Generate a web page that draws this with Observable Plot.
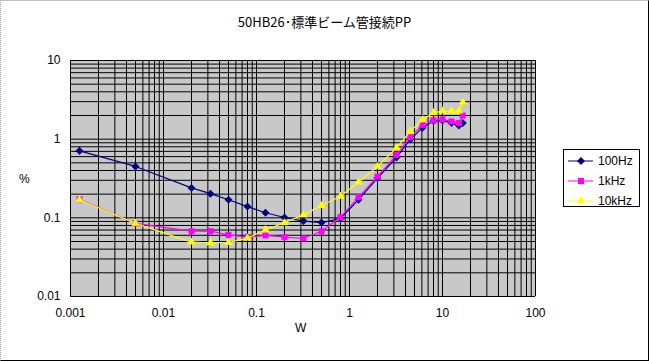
<!DOCTYPE html>
<html>
<head>
<meta charset="utf-8">
<script src="https://cdn.jsdelivr.net/npm/d3@7"></script>
<script src="https://cdn.jsdelivr.net/npm/@observablehq/plot@0.6"></script>
<style>
  html, body { margin: 0; padding: 0; background: #fff; }
  #wrap { position: relative; width: 649px; height: 361px; overflow: hidden; font-family: "Liberation Sans", Arial, "Noto Sans CJK JP", sans-serif; }
  .lbl { position: absolute; font-size: 12px; color: #000; white-space: nowrap; }
  #border { position: absolute; left: 0; top: 0; width: 649px; height: 361px; box-sizing: border-box;
            border-top: 1px solid #c0c0c0; border-left: 1px dotted #a0a0a0; border-right: 1px solid #000; border-bottom: 1px solid #000; pointer-events: none; }
  #legend { position: absolute; left: 563px; top: 149px; width: 77px; height: 58px; box-sizing: border-box; border: 1px solid #000; background: #fff; }
  .li { position: absolute; left: 0; height: 14px; font-size: 12px; line-height: 14px; }
  .li svg { position: absolute; left: 4px; top: 0; }
  .li span { position: absolute; left: 34px; top: 0; }
</style>
</head>
<body>
<div id="wrap"></div>
<script>
// ---- data ----
const power = [0.00125, 0.005, 0.02, 0.032, 0.05, 0.08, 0.125, 0.2, 0.32, 0.5, 0.8, 1.25, 2, 3.2, 4.5, 6.1, 8, 10, 12.5, 15, 16.5];
const thd100Hz = [0.71, 0.45, 0.24, 0.203, 0.17, 0.139, 0.116, 0.101, 0.091, 0.087, 0.098, 0.17, 0.32, 0.585, 0.99, 1.40, 1.70, 1.73, 1.6, 1.49, 1.6];
const thd1kHz  = [0.172, 0.085, 0.0676, 0.0676, 0.0608, 0.0568, 0.0597, 0.0568, 0.0546, 0.0676, 0.102, 0.183, 0.335, 0.633, 1.06, 1.52, 1.73, 1.78, 1.68, 1.61, 2.0];
const thd10kHz = [0.17, 0.085, 0.049, 0.048, 0.0486, 0.0551, 0.0704, 0.0865, 0.109, 0.1435, 0.188, 0.284, 0.45, 0.776, 1.26, 1.76, 2.16, 2.27, 2.27, 2.27, 2.95];
const seriesNames = ["100Hz", "1kHz", "10kHz"];
const seriesColors = ["#000080", "#ff00ff", "#ffff00"];
const xTicks = [0.001, 0.01, 0.1, 1, 10, 100];
const xTickLabels = ["0.001", "0.01", "0.1", "1", "10", "100"];
const yTicks = [0.01, 0.1, 1, 10];
const yTickLabels = ["0.01", "0.1", "1", "10"];
const title = "50HB26･標準ビーム管接続PP";
const xLabel = "W";
const yLabel = "%";

// ---- build ----
const rhombus = {
  draw(context, size) {
    const h = Math.sqrt(size / 2);
    context.moveTo(0, -h); context.lineTo(h, 0); context.lineTo(0, h); context.lineTo(-h, 0); context.closePath();
  }
};
const seriesSymbols = [rhombus, d3.symbolSquare, d3.symbolTriangle];
const symbolSizes = [3.2, 3.4, 3.1];

const allSeries = [thd100Hz, thd1kHz, thd10kHz];
const rows = [];
allSeries.forEach((vals, si) => vals.forEach((v, i) => rows.push({x: power[i], y: v, s: seriesNames[si]})));

const gridX = [];
for (let e = -3; e < 2; e++) for (let k = 1; k < 10; k++) gridX.push(k * Math.pow(10, e));
gridX.push(100);
const gridY = [];
for (let e = -2; e < 1; e++) for (let k = 1; k < 10; k++) gridY.push(k * Math.pow(10, e));
gridY.push(10);

const marks = [
  Plot.frame({fill: "#c8c8c8", stroke: null}),
  Plot.ruleX(gridX, {stroke: "#000", strokeWidth: 1}),
  Plot.ruleY(gridY, {stroke: "#000", strokeWidth: 1}),
  Plot.axisX({ticks: xTicks, tickFormat: d => xTickLabels[xTicks.indexOf(d)], tickSize: 0, tickPadding: 12, fontSize: 12, label: null}),
  Plot.axisY({ticks: yTicks, tickFormat: d => yTickLabels[yTicks.indexOf(d)], tickSize: 0, tickPadding: 10, fontSize: 12, label: null})
];
seriesNames.forEach((name, si) => {
  const data = rows.filter(r => r.s === name);
  marks.push(Plot.line(data, {x: "x", y: "y", stroke: seriesColors[si], strokeWidth: 1.2}));
  marks.push(Plot.dot(data, {x: "x", y: "y", symbol: () => seriesSymbols[si], fill: seriesColors[si], stroke: null, r: symbolSizes[si]}));
});

const chart = Plot.plot({
  width: 649, height: 361,
  marginLeft: 70, marginRight: 114, marginTop: 60, marginBottom: 65,
  style: {fontFamily: "'Liberation Sans', Arial, sans-serif", fontSize: "12px", color: "#000", background: "transparent"},
  x: {type: "log", domain: [0.001, 100]},
  y: {type: "log", domain: [0.01, 10]},
  symbol: {type: "identity"},
  marks
});

const wrap = document.getElementById("wrap");
wrap.appendChild(chart);

function addLabel(text, left, top, extra) {
  const d = document.createElement("div");
  d.className = "lbl";
  d.textContent = text;
  d.style.left = left + "px";
  d.style.top = top + "px";
  if (extra) Object.assign(d.style, extra);
  wrap.appendChild(d);
  return d;
}
addLabel(title, 0, 12, {width: "649px", textAlign: "center", fontSize: "13px", fontFamily: "'Noto Sans CJK JP', 'Liberation Sans', sans-serif"});
addLabel(xLabel, 295, 321);
addLabel(yLabel, 19, 172);

const legend = document.createElement("div");
legend.id = "legend";
seriesNames.forEach((name, si) => {
  const li = document.createElement("div");
  li.className = "li";
  li.style.top = (4 + si * 20) + "px";
  const sym = d3.symbol().type(seriesSymbols[si]).size(Math.PI * symbolSizes[si] * symbolSizes[si])();
  li.innerHTML = `<svg width="28" height="14"><line x1="0" x2="25" y1="7" y2="7" stroke="${seriesColors[si]}" stroke-width="1"/><path d="${sym}" transform="translate(13,7)" fill="${seriesColors[si]}"/></svg><span>${name}</span>`;
  legend.appendChild(li);
});
wrap.appendChild(legend);

const border = document.createElement("div");
border.id = "border";
wrap.appendChild(border);
</script>
</body>
</html>
